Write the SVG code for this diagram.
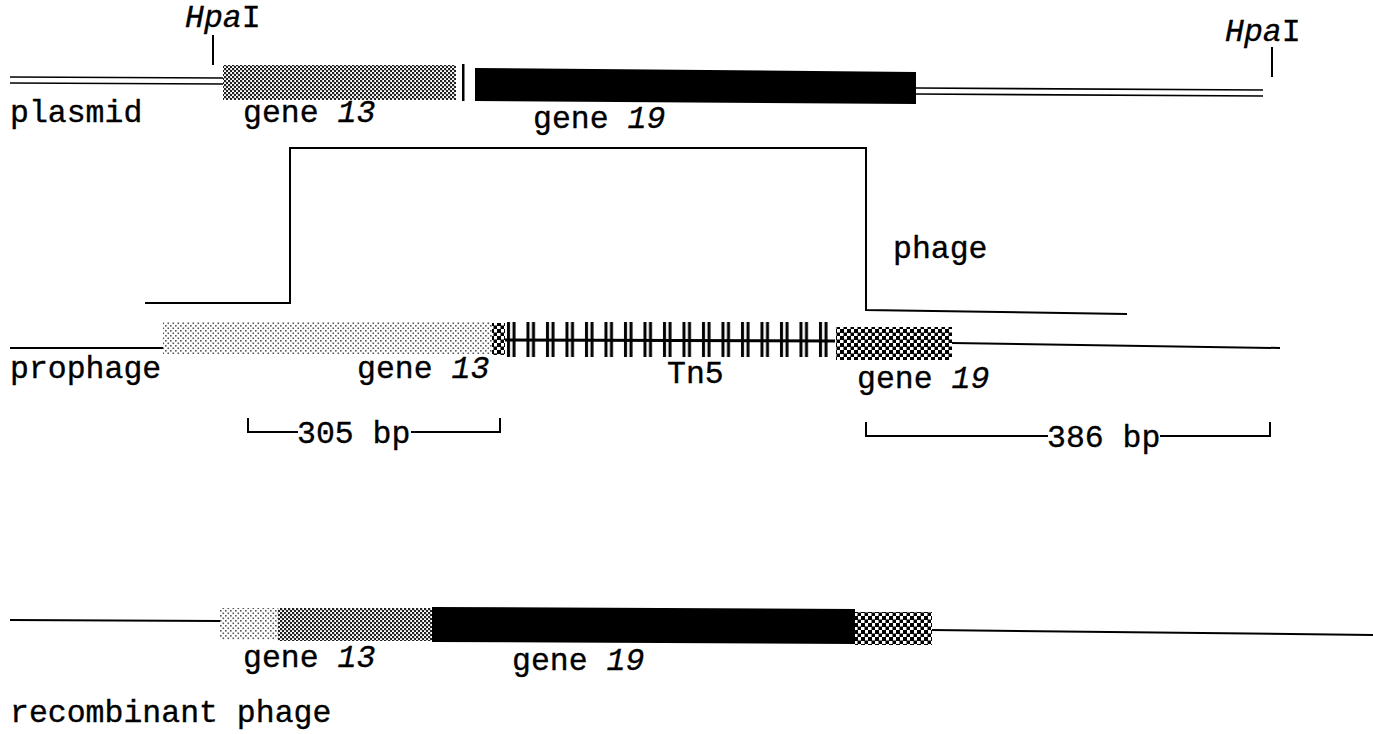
<svg xmlns="http://www.w3.org/2000/svg" width="1373" height="734" viewBox="0 0 1373 734">
<defs>
<pattern id="dense" width="4" height="4" patternUnits="userSpaceOnUse">
<rect width="4" height="4" fill="#fff"/>
<rect x="0" y="0" width="2.2" height="2.2" fill="#222"/>
<rect x="2" y="2" width="2.2" height="2.2" fill="#222"/>
</pattern>
<pattern id="light" width="5" height="5" patternUnits="userSpaceOnUse">
<rect width="5" height="5" fill="#fff"/>
<rect x="0" y="0" width="1.6" height="1.6" fill="#555"/>
<rect x="2.5" y="2.5" width="1.6" height="1.6" fill="#555"/>
</pattern>
<pattern id="checker" width="7" height="7" patternUnits="userSpaceOnUse">
<rect width="7" height="7" fill="#fff"/>
<rect x="0" y="0" width="4" height="4" fill="#000"/>
<rect x="3.5" y="3.5" width="4" height="4" fill="#000"/>
</pattern>
<pattern id="tn5" x="505" width="19.5" height="40" patternUnits="userSpaceOnUse">
<rect x="2" y="0" width="3" height="40" fill="#000"/>
<rect x="7.5" y="0" width="3" height="40" fill="#000"/>
</pattern>
</defs>
<style>
text{font-family:"Liberation Mono","Courier New",monospace;font-size:31.5px;fill:#000;stroke:#000;stroke-width:0.35}
.it{font-style:italic}
.ln{stroke:#000;stroke-width:2;fill:none}
.thin{stroke:#000;stroke-width:1.6;fill:none}
</style>

<g id="connectors">
<line class="thin" x1="10" y1="77" x2="223" y2="78"/>
<line class="thin" x1="10" y1="83" x2="223" y2="84"/>
<line class="thin" x1="916" y1="88" x2="1263" y2="90"/>
<line class="thin" x1="916" y1="94" x2="1263" y2="96"/>
<line class="ln" x1="213" y1="35" x2="213" y2="65"/>
<line class="ln" x1="1272" y1="47" x2="1272" y2="77"/>
<polyline class="ln" points="145,303 290,303 290,148 866,148 866,310 1127,314"/>
<line class="ln" x1="10" y1="348" x2="163" y2="348"/>
<line class="ln" x1="952" y1="343" x2="1280" y2="348"/>
<line x1="505" y1="340" x2="835" y2="341" stroke="#000" stroke-width="3"/>
<polyline class="ln" points="248,418 248,432 298,432"/>
<polyline class="ln" points="411,432 500,432 500,418"/>
<polyline class="ln" points="866,422 866,436 1048,436"/>
<polyline class="ln" points="1160,436 1270,436 1270,422"/>
<line class="ln" x1="10" y1="620" x2="220" y2="621"/>
<line class="ln" x1="932" y1="630" x2="1373" y2="635"/>
</g>

<g id="plasmid">
<rect x="223" y="65" width="233" height="35" fill="url(#dense)"/>
<rect x="462" y="64" width="2.5" height="37" fill="#000"/>
<polygon points="475,68 916,72 916,104 475,101" fill="#000"/>
<text x="185" y="27" class="it">Hpa<tspan font-style="normal">I</tspan></text>
<text x="1225" y="41" class="it">Hpa<tspan font-style="normal">I</tspan></text>
<text x="10" y="122">plasmid</text>
<text x="243" y="122">gene <tspan class="it">13</tspan></text>
<text x="533" y="128">gene <tspan class="it">19</tspan></text>
</g>

<g id="phage">
<text x="893" y="258">phage</text>
</g>

<g id="prophage">
<rect x="163" y="322" width="329" height="32" fill="url(#light)"/>
<rect x="492" y="323" width="13" height="32" fill="url(#checker)"/>
<rect x="505" y="322" width="331" height="35" fill="url(#tn5)"/>
<rect x="836" y="327" width="116" height="33" fill="url(#checker)"/>
<text x="10" y="378">prophage</text>
<text x="357" y="378">gene <tspan class="it">13</tspan></text>
<text x="667" y="383">Tn5</text>
<text x="857" y="388">gene <tspan class="it">19</tspan></text>
</g>

<g id="bp305">
<text x="297" y="443">305 bp</text>
</g>
<g id="bp386">
<text x="1047" y="447">386 bp</text>
</g>

<g id="recombinant">
<rect x="220" y="608" width="58" height="32" fill="url(#light)"/>
<rect x="278" y="608" width="154" height="33" fill="url(#dense)"/>
<polygon points="432,607 855,609 855,644 432,642" fill="#000"/>
<rect x="855" y="612" width="77" height="33" fill="url(#checker)"/>
<text x="243" y="667">gene <tspan class="it">13</tspan></text>
<text x="512" y="670">gene <tspan class="it">19</tspan></text>
<text x="10" y="722">recombinant phage</text>
</g>
</svg>
